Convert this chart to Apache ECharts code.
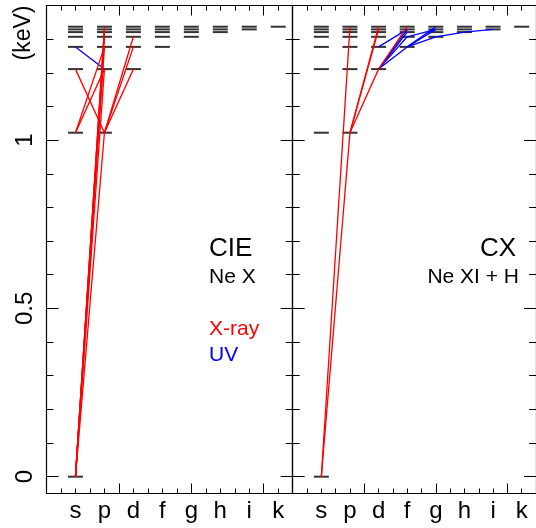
<!DOCTYPE html>
<html><head><meta charset="utf-8">
<script src="https://cdn.jsdelivr.net/npm/echarts@6/dist/echarts.min.js"></script>
<style>html,body{margin:0;padding:0;background:#fff}#c{width:536px;height:528px}</style>
</head><body><div id="c"></div>
<script>
// ---- data ----
const orbitals = ['s', 'p', 'd', 'f', 'g', 'h', 'i', 'k'];
// Ne X level energies (keV) for n = 1..8
const levelEnergies = [0, 1.022, 1.211, 1.277, 1.307, 1.321, 1.329, 1.337];
const yMinorTicks = [0, 0.1, 0.2, 0.3, 0.4, 0.5, 0.6, 0.7, 0.8, 0.9, 1.0, 1.1, 1.2, 1.3, 1.4];
const yMajorTicks = [0, 0.5, 1];
// transitions: [n_upper, l_upper, n_lower, l_lower]
const cieXray = [
  [2,1,1,0],[3,1,1,0],[4,1,1,0],[5,1,1,0],[6,1,1,0],[7,1,1,0],[8,1,1,0],
  [3,0,2,1],[3,1,2,0],[4,1,2,0],
  [3,2,2,1],[4,2,2,1],[5,2,2,1]
];
const cieUV = [[4,0,3,1]];
const cxXray = [
  [2,1,1,0],[8,1,1,0],
  [3,2,2,1],[7,2,2,1],[8,2,2,1],
  [8,3,3,2]
];
const cxUV = [
  [7,6,6,5],[6,5,5,4],[5,4,4,3],[4,3,3,2],
  [5,3,3,2],[7,3,3,2],[6,3,3,2],
  [7,3,4,2],
  [7,4,4,3],[8,4,4,3],[7,4,5,3]
];
const panelTitles = ['CIE', 'CX'];
const panelSubtitles = ['Ne X', 'Ne XI + H'];
const legendNames = ['X-ray', 'UV'];

// ---- build ----
const FONT = '"Liberation Sans", Arial, Helvetica, sans-serif';
const RED = '#ff0000', BLUE = '#0000ff';
const levelPoints = [];
levelEnergies.forEach((e, i) => {
  const n = i + 1;
  for (let l = 0; l < n; l++) levelPoints.push([l + 1, e]);
});
function toCoords(list) {
  return list.map(t => ({coords: [[t[1] + 1, levelEnergies[t[0] - 1]], [t[3] + 1, levelEnergies[t[2] - 1]]]}));
}

const grids = [
  {left: 46.5, top: 5.5, width: 246.2, height: 488},
  {left: 292.7, top: 5.5, width: 245, height: 488}
];
const xAxes = [], yAxes = [];
const lineCol = '#000';
const noLine = {show: false, onZero: false};
const frameLine = {show: true, onZero: false, lineStyle: {color: lineCol, width: 1.2}};
grids.forEach((g, gi) => {
  const base = {gridIndex: gi, type: 'value', min: 0, max: 8.5, splitLine: {show: false}};
  xAxes.push(Object.assign({}, base, {position: 'bottom', interval: 0.5,
    axisLine: frameLine,
    axisTick: {show: true, inside: true, length: 5, lineStyle: {color: lineCol, width: 1}},
    axisLabel: {show: false}}));
  xAxes.push(Object.assign({}, base, {position: 'bottom', interval: 2.5,
    axisLine: noLine,
    axisTick: {show: true, inside: true, length: 10, lineStyle: {color: lineCol, width: 1}},
    axisLabel: {show: false}}));
  xAxes.push(Object.assign({}, base, {position: 'bottom', interval: 1,
    axisLine: noLine, axisTick: {show: false},
    axisLabel: {show: true, margin: 6, color: '#000', fontSize: 24, fontFamily: FONT,
      showMinLabel: false, showMaxLabel: false,
      formatter: v => (Number.isInteger(v) && v >= 1 && v <= 8) ? orbitals[v - 1] : ''}}));
  xAxes.push(Object.assign({}, base, {position: 'top', interval: 0.5,
    axisLine: frameLine,
    axisTick: {show: true, inside: true, length: 5, lineStyle: {color: lineCol, width: 1}},
    axisLabel: {show: false}}));
  xAxes.push(Object.assign({}, base, {position: 'top', interval: 2.5,
    axisLine: noLine,
    axisTick: {show: true, inside: true, length: 10, lineStyle: {color: lineCol, width: 1}},
    axisLabel: {show: false}}));

  const yb = {gridIndex: gi, type: 'value', min: -0.05, max: 1.4, splitLine: {show: false}};
  ['left', 'right'].forEach(pos => {
    yAxes.push(Object.assign({}, yb, {position: pos,
      axisLine: frameLine,
      axisTick: {show: true, inside: true, length: 7, customValues: yMinorTicks, lineStyle: {color: lineCol, width: 1}},
      axisLabel: (gi === 0 && pos === 'left') ? {show: true, customValues: yMajorTicks, rotate: 90, margin: 9,
        color: '#000', fontSize: 24, fontFamily: FONT, formatter: v => String(v)} : {show: false}}));
    yAxes.push(Object.assign({}, yb, {position: pos,
      axisLine: noLine,
      axisTick: {show: true, inside: true, length: 12, customValues: yMajorTicks, lineStyle: {color: lineCol, width: 1}},
      axisLabel: {show: false}}));
  });
});

const series = [];
[[cieXray, cieUV], [cxXray, cxUV]].forEach((pair, gi) => {
  const xi = gi * 5, yi = gi * 4;
  series.push({type: 'scatter', xAxisIndex: xi, yAxisIndex: yi, data: levelPoints, symbol: 'rect',
    symbolSize: [15, 2], itemStyle: {color: '#000'}, silent: true, z: 2, animation: false});
  series.push({type: 'lines', coordinateSystem: 'cartesian2d', xAxisIndex: xi, yAxisIndex: yi,
    data: toCoords(pair[1]), lineStyle: {color: BLUE, width: 1.3, opacity: 1}, silent: true, z: 3, animation: false});
  series.push({type: 'lines', coordinateSystem: 'cartesian2d', xAxisIndex: xi, yAxisIndex: yi,
    data: toCoords(pair[0]), lineStyle: {color: RED, width: 1.3, opacity: 1}, silent: true, z: 4, animation: false});
});

const txt = (text, x, y, size, color, align, rot) => ({type: 'text', x, y, rotation: rot || 0, z: 10,
  style: {text, fill: color, font: size + 'px ' + FONT, textAlign: align, textVerticalAlign: 'middle'}});

const chart = echarts.init(document.getElementById('c'), null, {renderer: 'canvas'});
chart.setOption({
  animation: false,
  backgroundColor: '#fff',
  grid: grids,
  xAxis: xAxes,
  yAxis: yAxes,
  series,
  graphic: [
    txt('(keV)', 24, 33, 23, '#000', 'center', Math.PI / 2),
    txt(panelTitles[0], 209, 249, 26, '#000', 'left'),
    txt(panelSubtitles[0], 209, 277, 21, '#000', 'left'),
    txt(legendNames[0], 209, 329, 21, RED, 'left'),
    txt(legendNames[1], 209, 355.5, 21, BLUE, 'left'),
    txt(panelTitles[1], 516, 249, 26, '#000', 'right'),
    txt(panelSubtitles[1], 519, 277, 21, '#000', 'right')
  ]
});
</script></body></html>
